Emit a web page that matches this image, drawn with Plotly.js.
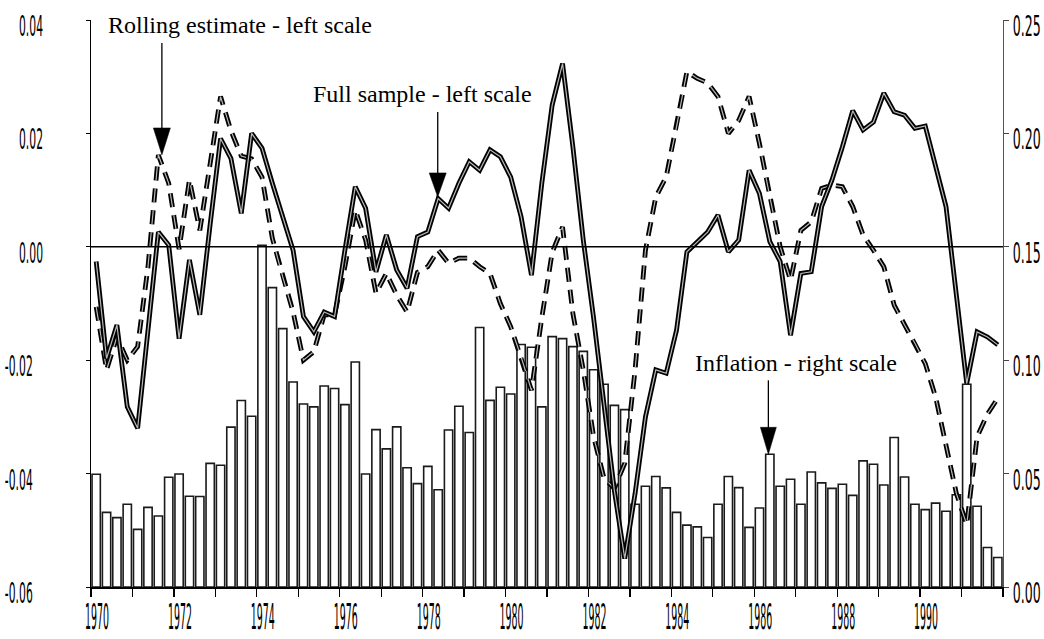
<!DOCTYPE html>
<html>
<head>
<meta charset="utf-8">
<script src="https://cdn.plot.ly/plotly-3.0.1.min.js"></script>
<style>
html,body{margin:0;padding:0;background:#fff;}
#chart{width:1044px;height:639px;}
</style>
</head>
<body>
<div id="chart"></div>
<script>
// ---- data (quarterly, 1970Q1 - 1991Q4) ----
const firstYear = 1970;

// inflation, right scale
const inflation = [
  0.0497, 0.0329, 0.0306, 0.0365, 0.0254, 0.0351, 0.0313, 0.0484, 0.0498, 0.0400, 0.0399,
  0.0545, 0.0537, 0.0705, 0.0822, 0.0753, 0.1507, 0.1320, 0.1139, 0.0904, 0.0807, 0.0794,
  0.0886, 0.0875, 0.0804, 0.0992, 0.0498, 0.0694, 0.0609, 0.0706, 0.0526, 0.0456, 0.0532,
  0.0429, 0.0692, 0.0797, 0.0681, 0.1144, 0.0823, 0.0881, 0.0851, 0.1069, 0.1057, 0.0794,
  0.1104, 0.1095, 0.1060, 0.1039, 0.0958, 0.0894, 0.0801, 0.0782, 0.0365, 0.0444, 0.0487,
  0.0437, 0.0329, 0.0273, 0.0265, 0.0218, 0.0365, 0.0487, 0.0438, 0.0263, 0.0348, 0.0585,
  0.0444, 0.0475, 0.0365, 0.0507, 0.0459, 0.0435, 0.0453, 0.0404, 0.0556, 0.0541, 0.0450,
  0.0659, 0.0485, 0.0365, 0.0341, 0.0370, 0.0334, 0.0407, 0.0894, 0.0356, 0.0174, 0.0130
];

// full sample estimate, left scale
const fullSample = [
  -0.0026, -0.0197, -0.0138, -0.0282, -0.0320, -0.0147, 0.0026, 0.0003, -0.0162, -0.0023, -0.0120,
  0.0040, 0.0191, 0.0156, 0.0059, 0.0200, 0.0174, 0.0112, 0.0053, -0.0006, -0.0123, -0.0150,
  -0.0115, -0.0123, -0.0006, 0.0106, 0.0068, -0.0044, 0.0021, -0.0041, -0.0073, 0.0018, 0.0026,
  0.0085, 0.0068, 0.0112, 0.0150, 0.0135, 0.0171, 0.0159, 0.0123, 0.0053, -0.0050, 0.0112,
  0.0250, 0.0323, 0.0176, 0.0012, -0.0126, -0.0277, -0.0430, -0.0550, -0.0435, -0.0300, -0.0217,
  -0.0223, -0.0147, -0.0009, 0.0009, 0.0026, 0.0056, -0.0009, 0.0012, 0.0135, 0.0094, 0.0009,
  -0.0026, -0.0156, -0.0047, -0.0044, 0.0071, 0.0118, 0.0176, 0.0240, 0.0206, 0.0220, 0.0271,
  0.0238, 0.0232, 0.0209, 0.0213, 0.0141, 0.0071, -0.0085, -0.0241, -0.0150, -0.0159, -0.0173
];

// rolling estimate, left scale
const rolling = [
  -0.0106, -0.0217, -0.0159, -0.0200, -0.0176, -0.0035, 0.0162, 0.0112, -0.0004, 0.0118, 0.0029,
  0.0147, 0.0265, 0.0205, 0.0160, 0.0155, 0.0123, 0.0015, -0.0053, -0.0115, -0.0200, -0.0185,
  -0.0120, -0.0120, -0.0035, 0.0065, 0.0012, -0.0082, -0.0047, -0.0085, -0.0115, -0.0045, -0.0035,
  -0.0006, -0.0029, -0.0020, -0.0020, -0.0035, -0.0047, -0.0100, -0.0141, -0.0194, -0.0253, -0.0125,
  -0.0010, 0.0035, -0.0118, -0.0217, -0.0335, -0.0408, -0.0426, -0.0382, -0.0217, -0.0006, 0.0088,
  0.0123, 0.0212, 0.0309, 0.0297, 0.0289, 0.0265, 0.0200, 0.0223, 0.0265, 0.0182, 0.0088,
  0.0000, -0.0059, 0.0029, 0.0044, 0.0103, 0.0109, 0.0106, 0.0071, 0.0021, -0.0006, -0.0035,
  -0.0103, -0.0138, -0.0170, -0.0206, -0.0265, -0.0353, -0.0435, -0.0490, -0.0335, -0.0295, -0.0267
];

// mid-quarter positions (category axis)
const quarters = inflation.map((_, i) => firstYear + (i + 0.5) / 4);

// tick labels
const xTickVals = [1970,1971,1972,1973,1974,1975,1976,1977,1978,1979,1980,1981,1982,1983,1984,1985,1986,1987,1988,1989,1990,1991,1992];
const xTickText = ['1970','','1972','','1974','','1976','','1978','','1980','','1982','','1984','','1986','','1988','','1990','',''];
const leftTickVals = [-0.06,-0.04,-0.02,0,0.02,0.04];
const leftTickText = ['-0.06\u00a0\u00a0\u00a0','-0.04\u00a0\u00a0\u00a0','-0.02\u00a0\u00a0\u00a0','0.00','0.02','0.04'];
const rightTickVals = [0,0.05,0.10,0.15,0.20,0.25];
const rightTickText = ['0.00','0.05','0.10','0.15','0.20','0.25'];

const tickFont = {family: '"Liberation Sans Narrow", "Arial Narrow", "DejaVu Sans Condensed", sans-serif', size: 14, color: '#000'};
const serif = {family: '"Liberation Serif", "Times New Roman", serif', size: 24, color: '#000'};

const traces = [
  {type: 'bar', x: quarters, y: inflation, yaxis: 'y', width: 0.2,
   marker: {color: '#ffffff', line: {color: '#1a1a1a', width: 1.6}}, hoverinfo: 'skip'},
  {type: 'scatter', mode: 'lines', x: quarters, y: rolling, yaxis: 'y2',
   line: {color: '#000', width: 4.8, dash: '14px,8px'}, hoverinfo: 'skip'},
  {type: 'scatter', mode: 'lines', x: quarters, y: rolling, yaxis: 'y2',
   line: {color: '#b8b8b8', width: 1.2, dash: '14px,8px'}, hoverinfo: 'skip'},
  {type: 'scatter', mode: 'lines', x: quarters, y: fullSample, yaxis: 'y2',
   line: {color: '#000', width: 4.8}, hoverinfo: 'skip'},
  {type: 'scatter', mode: 'lines', x: quarters, y: fullSample, yaxis: 'y2',
   line: {color: '#b8b8b8', width: 1.2}, hoverinfo: 'skip'}
];

function arrow(xa, ya, yref, shaft, headH, halfW) {
  return [
    {type: 'line', xref: 'x', yref: yref, xsizemode: 'pixel', ysizemode: 'pixel',
     xanchor: xa, yanchor: ya, x0: 0, x1: 0, y0: headH - 2, y1: shaft,
     line: {color: '#000', width: 1.3}, layer: 'above'},
    {type: 'path', xref: 'x', yref: yref, xsizemode: 'pixel', ysizemode: 'pixel',
     xanchor: xa, yanchor: ya,
     path: 'M' + (-halfW) + ',' + headH + 'L' + halfW + ',' + headH + 'L0,0Z',
     fillcolor: '#000', line: {color: '#000', width: 0.5}, layer: 'above'}
  ];
}

const shapes = [
  {type: 'line', xref: 'paper', x0: 0, x1: 1, yref: 'y2', y0: 0, y1: 0,
   line: {color: '#000', width: 1.5}, layer: 'above'}
].concat(
  arrow(1971.71, 0.0162, 'y2', 112, 27, 8.5),
  arrow(1978.364, 0.0088, 'y2', 85, 24, 8.5),
  arrow(1986.34, 0.0585, 'y', 74, 27, 8)
);

const annotations = [
  {text: 'Rolling estimate - left scale', xref: 'paper', yref: 'paper', x: 0.0165, y: 0.9914,
   xanchor: 'left', yanchor: 'middle', showarrow: false, font: serif},
  {text: 'Full sample - left scale', xref: 'paper', yref: 'paper', x: 0.2412, y: 0.8702,
   xanchor: 'left', yanchor: 'middle', showarrow: false, font: serif},
  {text: 'Inflation - right scale', xref: 'paper', yref: 'paper', x: 0.6601, y: 0.3958,
   xanchor: 'left', yanchor: 'middle', showarrow: false, font: serif}
];

const layout = {
  width: 1044, height: 639,
  margin: {l: 91, r: 41, t: 20, b: 52, pad: 0},
  paper_bgcolor: '#fff', plot_bgcolor: '#fff',
  showlegend: false,
  bargap: 0,
  xaxis: {range: [1970, 1992], tickmode: 'array', tickvals: xTickVals, ticktext: xTickText,
          ticks: 'outside', ticklen: 8, tickwidth: 1.2, tickcolor: '#000',
          showline: true, linecolor: '#000', linewidth: 2, showgrid: false, zeroline: false,
          tickfont: tickFont, ticklabelshift: 6, ticklabelstandoff: 0, fixedrange: true},
  yaxis: {side: 'right', range: [0, 0.25], tickmode: 'array', tickvals: rightTickVals, ticktext: rightTickText,
          ticks: 'outside', ticklen: 5, tickwidth: 1, tickcolor: '#444',
          showline: true, linecolor: '#555', linewidth: 1, showgrid: false, zeroline: false,
          tickfont: tickFont, ticklabelshift: -3, ticklabelstandoff: 1, fixedrange: true},
  yaxis2: {side: 'left', overlaying: 'y', range: [-0.06, 0.04], tickmode: 'array',
           tickvals: leftTickVals, ticktext: leftTickText,
           ticks: 'outside', ticklen: 4, tickwidth: 1, tickcolor: '#000',
           showline: true, linecolor: '#000', linewidth: 1.2, showgrid: false, zeroline: false,
           tickfont: tickFont, ticklabelshift: -3, ticklabelstandoff: 40, fixedrange: true},
  shapes: shapes,
  annotations: annotations
};

// stretch tick labels vertically to mimic the tall condensed digits of the original
function stretchTicks(cls, refText, targetW, targetDigitH, align, dy) {
  const nodes = Array.from(document.querySelectorAll('g.' + cls + ' > text'));
  if (!nodes.length) return;
  const ref = nodes.find(n => n.textContent.trim() === refText) || nodes[0];
  const rb = ref.getBBox();
  const fs = parseFloat(window.getComputedStyle(ref).fontSize) || 14;
  const sx = rb.width > 0 ? targetW / rb.width : 1;
  const sy = targetDigitH / (0.72 * fs);
  nodes.forEach(t => {
    if (!t.textContent.trim()) return;
    const b = t.getBBox();
    let ax = b.x + b.width / 2;
    if (align === 'end') ax = b.x + b.width;
    if (align === 'start') ax = b.x;
    const ay = b.y;
    const prev = t.getAttribute('transform') || '';
    t.setAttribute('transform', prev + ' translate(0,' + (dy || 0) + ') translate(' + ax + ',' + ay + ') scale(' + sx + ',' + sy + ') translate(' + (-ax) + ',' + (-ay) + ')');
  });
}

Plotly.newPlot('chart', traces, layout, {displayModeBar: false, staticPlot: true}).then(() => {
  stretchTicks('xtick', '1970', 24, 26, 'middle', -5);
  stretchTicks('y2tick', '0.04', 24, 21, 'end', 0);
  stretchTicks('ytick', '0.00', 28, 21, 'start', 0);
});
</script>
</body>
</html>
